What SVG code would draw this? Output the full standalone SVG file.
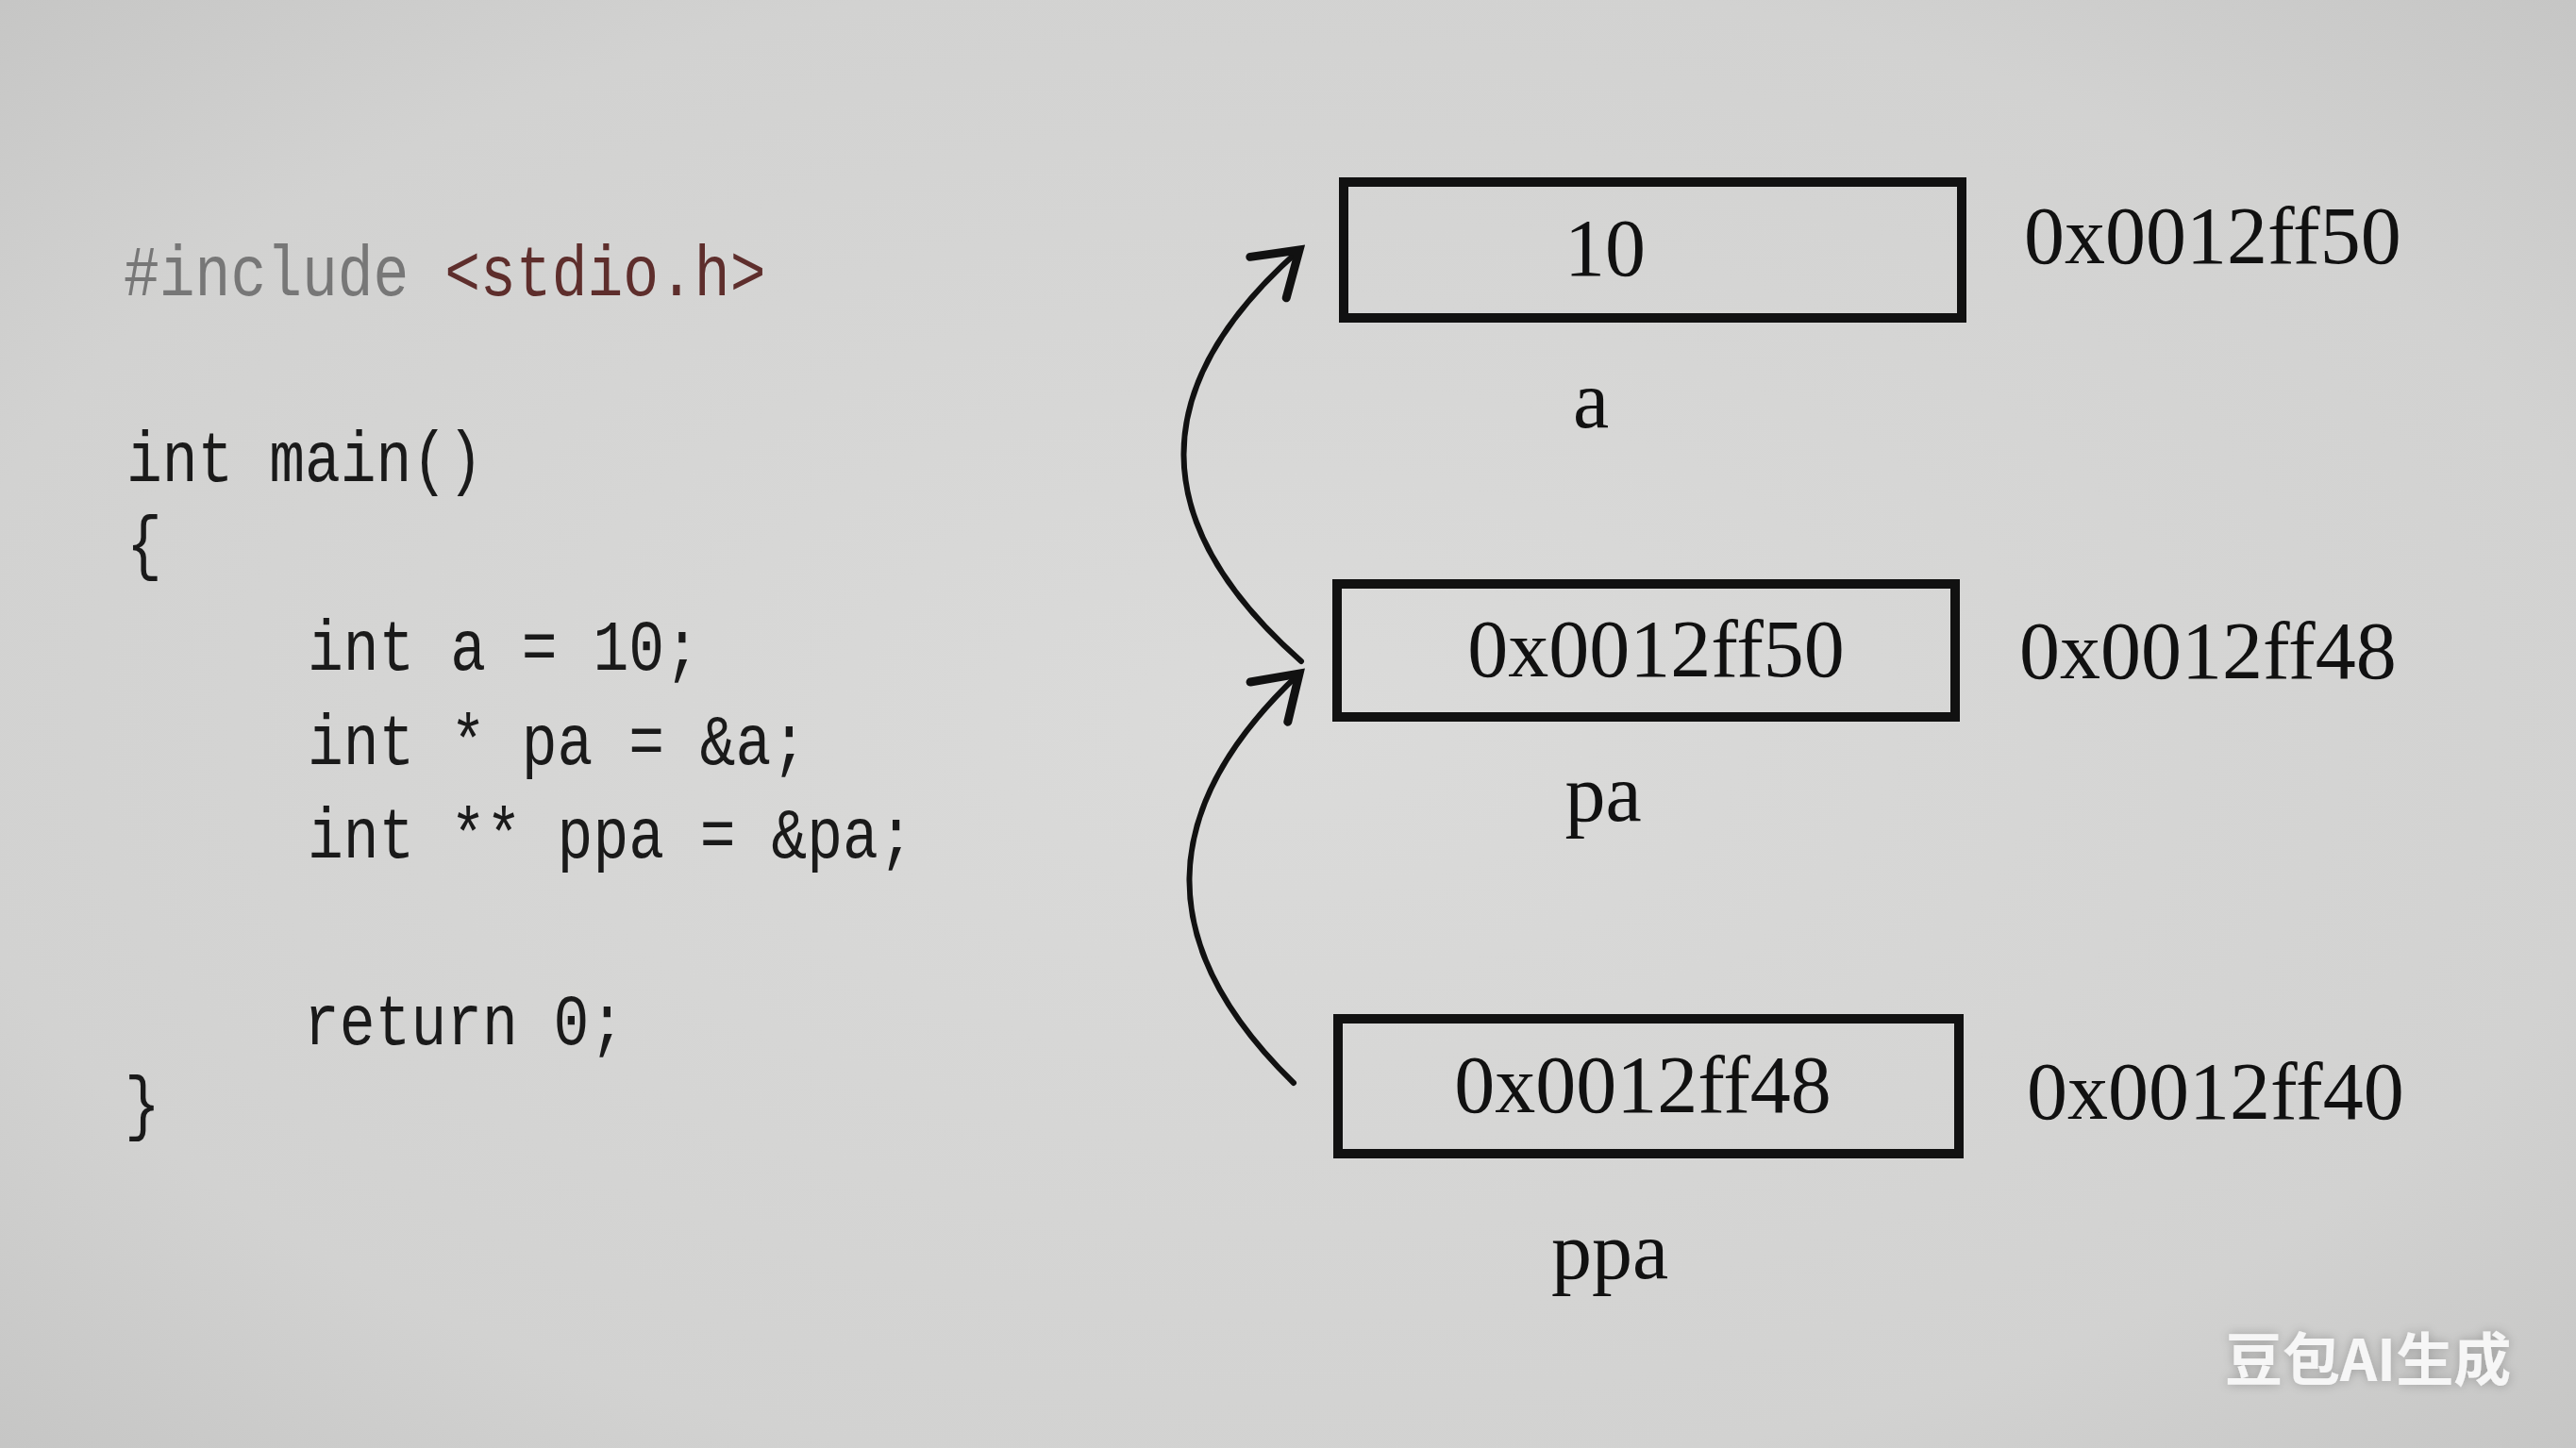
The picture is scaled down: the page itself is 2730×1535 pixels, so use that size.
<svg xmlns="http://www.w3.org/2000/svg" width="2730" height="1535" viewBox="0 0 2730 1535">
<defs>
<radialGradient id="bg" cx="50%" cy="50%" r="75%">
<stop offset="0" stop-color="#dbdbda"/>
<stop offset="0.7" stop-color="#d2d2d1"/>
<stop offset="1" stop-color="#c3c3c2"/>
</radialGradient>
<marker id="head" markerUnits="userSpaceOnUse" viewBox="-60 -40 70 80" markerWidth="70" markerHeight="80" refX="0" refY="0" orient="auto">
<path d="M-44,-29 L0,0 L-44,29" fill="none" stroke="#111" stroke-width="9" stroke-linecap="round" stroke-linejoin="miter"/>
</marker>
<filter id="sh" x="-10%" y="-30%" width="120%" height="160%">
<feGaussianBlur in="SourceAlpha" stdDeviation="6"/>
<feComponentTransfer><feFuncA type="linear" slope="0.25"/></feComponentTransfer>
<feMerge><feMergeNode/><feMergeNode in="SourceGraphic"/></feMerge>
</filter>
</defs>
<style>
.code{font-family:"Liberation Mono","DejaVu Sans Mono",monospace;font-size:63px;fill:#1a1a1a}
.mem{font-family:"Liberation Serif","DejaVu Serif",serif;font-size:86px;fill:#111}
.box{fill:none;stroke:#111;stroke-width:10}
.conn{fill:none;stroke:#111;stroke-width:6;stroke-linecap:round}
.wm{font-family:"Noto Sans CJK SC","Noto Sans",sans-serif;font-size:61px;font-weight:bold;fill:#f6f6f6}
</style>
<rect width="2730" height="1535" fill="url(#bg)"/>

<g id="code">
<text class="code" x="131" y="0" transform="translate(0,313) scale(1,1.22)"><tspan fill="#777">#include</tspan> <tspan fill="#5e2e2c">&lt;stdio.h&gt;</tspan></text>
<text class="code" x="134" y="0" transform="translate(0,510) scale(1,1.22)">int main()</text>
<text class="code" x="134" y="0" transform="translate(0,600) scale(1,1.22)">{</text>
<text class="code" x="326" y="0" transform="translate(0,710) scale(1,1.22)">int a = 10;</text>
<text class="code" x="326" y="0" transform="translate(0,810) scale(1,1.22)">int * pa = &amp;a;</text>
<text class="code" x="326" y="0" transform="translate(0,909) scale(1,1.22)">int ** ppa = &amp;pa;</text>
<text class="code" x="322" y="0" transform="translate(0,1107) scale(1,1.22)">return 0;</text>
<text class="code" x="132" y="0" transform="translate(0,1194) scale(1,1.22)">}</text>
</g>

<g id="node-a">
<rect class="box" x="1424" y="193" width="655" height="144"/>
<text class="mem" x="1701" y="292" text-anchor="middle">10</text>
<text class="mem" x="2145" y="279">0x0012ff50</text>
<text class="mem" x="1686" y="453" text-anchor="middle">a</text>
</g>

<g id="node-pa">
<rect class="box" x="1417" y="619" width="655" height="141"/>
<text class="mem" x="1755" y="717" text-anchor="middle">0x0012ff50</text>
<text class="mem" x="2140" y="719">0x0012ff48</text>
<text class="mem" x="1699" y="870" text-anchor="middle">pa</text>
</g>

<g id="node-ppa">
<rect class="box" x="1418" y="1080" width="658" height="143"/>
<text class="mem" x="1741" y="1179" text-anchor="middle">0x0012ff48</text>
<text class="mem" x="2148" y="1186">0x0012ff40</text>
<text class="mem" x="1706" y="1355" text-anchor="middle">ppa</text>
</g>

<g id="connectors">
<path class="conn" d="M1379,701 Q1131,482 1377,265" marker-end="url(#head)"/>
<path class="conn" d="M1371,1148 Q1147,930 1377,714" marker-end="url(#head)"/>
</g>

<text class="wm" x="2358" y="1464" filter="url(#sh)">豆包AI生成</text>
</svg>
